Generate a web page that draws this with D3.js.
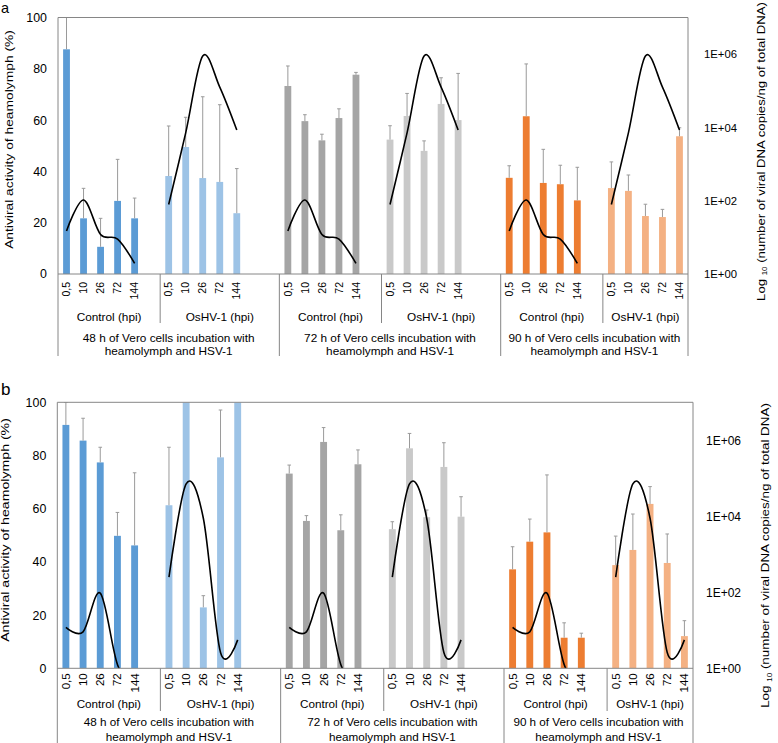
<!DOCTYPE html>
<html><head><meta charset="utf-8">
<script src="https://cdn.jsdelivr.net/npm/d3@7"></script>
<style>
body{margin:0;background:#fff}
svg{display:block}
text{font-family:"Liberation Sans",Arial,Helvetica,sans-serif;fill:#000}
</style>
</head><body>
<svg id="c" width="778" height="743"></svg>
<script>
// ---------------- data ----------------
const timepoints = ["0,5", "10", "26", "72", "144"];
const treatments = ["Control (hpi)", "OsHV-1 (hpi)"];
const incubationLine1 = ["48 h of Vero cells incubation with", "72 h of Vero cells incubation with", "90 h of Vero cells incubation with"];
const incubationLine2 = ["heamolymph and HSV-1", "heamolymph and HSV-1", "heamolymph and HSV-1"];
const leftTicks = [0, 20, 40, 60, 80, 100];
const rightTicks = [1, 1e2, 1e4, 1e6];
const rightTickLabels = ["1E+00", "1E+02", "1E+04", "1E+06"];
const leftTitle = "Antiviral activity of heamolymph (%)";
const rightTitleParts = ["Log ", "10", " (number of viral DNA copies/ng of total DNA)"];

// panel a : antiviral activity (%) [incubation][treatment][timepoint]
const activityA = [
  [[87.6, 21.7, 10.6, 28.5, 21.7], [38.2, 49.5, 37.4, 35.9, 23.7]],
  [[73.3, 59.6, 52.1, 60.8, 77.7], [52.4, 61.6, 48.0, 66.3, 60.0]],
  [[37.5, 61.5, 35.5, 35.0, 28.7], [33.5, 32.4, 22.6, 22.2, 53.7]]
];
const errorA = [
  [[12.4, 11.7, 11.1, 16.2, 7.9], [19.5, 11.6, 31.7, 30.1, 17.4]],
  [[7.8, 2.5, 2.4, 3.6, 0.9], [5.4, 8.8, 3.9, 10.2, 18.2]],
  [[4.7, 20.4, 13.1, 7.4, 12.9], [10.2, 6.2, 4.6, 3.0, 3.3]]
];
// viral DNA copies / ng total DNA (same curve repeated in each incubation group)
const dnaControlA = [15, 105, 12, 9, 1.95];
const dnaOsHVA = [79, 7100, 890000, 126000, 8500];

// panel b
const activityB = [
  [[91.5, 85.6, 77.4, 49.8, 46.2], [61.3, 100, 22.9, 79.3, 100]],
  [[73.2, 55.4, 85.1, 51.9, 76.7], [52.3, 82.7, 56.8, 75.7, 57.0]],
  [[37.2, 47.6, 51.1, 11.5, 11.5], [38.8, 44.5, 61.8, 39.6, 12.1]]
];
const errorB = [
  [[8.5, 8.4, 5.7, 8.8, 27.3], [21.8, 0, 4.4, 17.8, 0]],
  [[3.2, 2.0, 5.4, 5.8, 5.4], [2.8, 5.6, 2.7, 9.1, 7.5]],
  [[8.5, 8.5, 21.6, 5.6, 1.7], [10.9, 13.5, 6.5, 10.9, 5.8]]
];
const dnaControlB = [12, 9.1, 95, 1.26, 0.3];
const dnaOsHVB = [250, 71000, 8900, 2.6, 5.6];

// ---------------- styles ----------------
const barColors = [["#5b9bd5", "#9dc3e6"], ["#a5a5a5", "#c9c9c9"], ["#ed7d31", "#f4b183"]];
const frameColor = "#868686";
const errColor = "#9a9a9a";

// category slots (Excel-style with blank categories between groups)
const slots = [];
incubationLine1.forEach((_, gi) => {
  treatments.forEach((_, ti) => {
    timepoints.forEach((tp, k) => slots.push(`${gi}-${ti}-${k}`));
    const blanks = ti === 0 ? 1 : (gi < incubationLine1.length - 1 ? 2 : 0);
    for (let b = 0; b < blanks; b++) slots.push(`${gi}-${ti}-b${b}`);
  });
});

const svg = d3.select("#c");
const defs = svg.append("defs");

function panel(cfg, activity, errors, dnaCtrl, dnaOsHV) {
  const g = svg.append("g");
  const x = d3.scaleBand().domain(slots).range([cfg.x0, cfg.x1]).padding(0);
  const y = d3.scaleLinear().domain([0, 100]).range([cfg.yBot, cfg.yTop]);
  const yR = d3.scaleLog().domain([1, 1e7]).range([cfg.yBot, cfg.yTop]);
  const bw = x.bandwidth();
  const barW = bw * 0.4;
  const clipId = "clip" + cfg.id;
  defs.append("clipPath").attr("id", clipId).append("rect")
    .attr("x", cfg.x0).attr("y", cfg.yTop)
    .attr("width", cfg.x1 - cfg.x0).attr("height", cfg.yBot - cfg.yTop);

  const plot = g.append("g").attr("clip-path", `url(#${clipId})`);
  const barData = [];
  activity.forEach((inc, gi) => inc.forEach((vals, ti) => vals.forEach((v, k) =>
    barData.push({ gi, ti, k, v, e: errors[gi][ti][k] }))));
  const cx = d => x(`${d.gi}-${d.ti}-${d.k}`) + bw / 2;

  plot.selectAll("rect.bar").data(barData).join("rect").attr("class", "bar")
    .attr("x", d => cx(d) - barW / 2).attr("width", barW)
    .attr("y", d => y(d.v)).attr("height", d => y(0) - y(d.v))
    .attr("fill", d => barColors[d.gi][d.ti]);

  const errData = barData.filter(d => d.e > 0);
  plot.selectAll("line.err").data(errData).join("line").attr("class", "err")
    .attr("x1", cx).attr("x2", cx)
    .attr("y1", d => y(d.v)).attr("y2", d => y(d.v + d.e))
    .attr("stroke", errColor).attr("stroke-width", 1);
  plot.selectAll("line.cap").data(errData).join("line").attr("class", "cap")
    .attr("x1", d => cx(d) - 1.8).attr("x2", d => cx(d) + 1.8)
    .attr("y1", d => y(d.v + d.e)).attr("y2", d => y(d.v + d.e))
    .attr("stroke", errColor).attr("stroke-width", 1);

  const line = d3.line().x(d => d.x).y(d => yR(d.v)).curve(d3.curveCardinal.tension(0));
  incubationLine1.forEach((_, gi) => {
    [dnaCtrl, dnaOsHV].forEach((arr, ti) => {
      const pts = arr.map((v, k) => ({ x: x(`${gi}-${ti}-${k}`) + bw / 2, v }));
      plot.append("path").attr("d", line(pts)).attr("fill", "none")
        .attr("stroke", "#000").attr("stroke-width", 1.6);
    });
  });

  // frame
  g.append("line").attr("x1", cfg.x0).attr("x2", cfg.x1).attr("y1", cfg.yTop).attr("y2", cfg.yTop)
    .attr("stroke", frameColor);
  g.append("line").attr("x1", cfg.x0).attr("x2", cfg.x1).attr("y1", cfg.yBot).attr("y2", cfg.yBot)
    .attr("stroke", frameColor);
  [cfg.x0, cfg.x1].forEach(xx => g.append("line").attr("x1", xx).attr("x2", xx)
    .attr("y1", cfg.yTop).attr("y2", cfg.sepEnd).attr("stroke", frameColor));

  // left axis
  const la = g.append("g").attr("transform", `translate(${cfg.x0},0)`)
    .call(d3.axisLeft(y).tickValues(leftTicks).tickSize(0).tickPadding(cfg.leftPad));
  la.select(".domain").remove();
  la.selectAll("text").attr("font-size", cfg.leftFont).attr("font-family", null);

  // right axis
  const ra = g.append("g").attr("transform", `translate(${cfg.x1},0)`)
    .call(d3.axisRight(yR).tickValues(rightTicks).tickFormat((d, i) => rightTickLabels[i])
      .tickSize(0).tickPadding(cfg.rightPad));
  ra.select(".domain").remove();
  ra.selectAll("text").attr("font-size", cfg.rightFont).attr("font-family", null);

  // bottom axis (timepoints)
  const ba = g.append("g").attr("transform", `translate(0,${cfg.yBot})`)
    .call(d3.axisBottom(x).tickValues(slots.filter(s => !s.includes("b")))
      .tickFormat(s => timepoints[+s.split("-")[2]]).tickSize(0));
  ba.select(".domain").remove();
  ba.selectAll("text").attr("font-size", cfg.tickFont).attr("font-family", null)
    .attr("text-anchor", "end").attr("transform", "rotate(-90)")
    .attr("x", -cfg.tickGap).attr("y", 0).attr("dy", "0.35em");

  // group labels & separators
  incubationLine1.forEach((_, gi) => {
    const cStart = x(`${gi}-0-0`), oStart = x(`${gi}-1-0`);
    const gEnd = gi < incubationLine1.length - 1 ? x(`${gi + 1}-0-0`) : cfg.x1;
    g.append("line").attr("x1", oStart).attr("x2", oStart).attr("y1", cfg.yBot).attr("y2", cfg.sep2End)
      .attr("stroke", frameColor);
    if (gi > 0) g.append("line").attr("x1", cStart).attr("x2", cStart).attr("y1", cfg.yBot).attr("y2", cfg.sepEnd)
      .attr("stroke", frameColor);
    g.append("text").attr("x", (cStart + oStart) / 2).attr("y", cfg.lvl2Y).attr("text-anchor", "middle")
      .attr("font-size", cfg.catFont).text(treatments[0]);
    g.append("text").attr("x", (oStart + gEnd) / 2).attr("y", cfg.lvl2Y).attr("text-anchor", "middle")
      .attr("font-size", cfg.catFont).text(treatments[1]);
    g.append("text").attr("x", (cStart + gEnd) / 2).attr("y", cfg.lvl3Y1).attr("text-anchor", "middle")
      .attr("font-size", cfg.catFont).text(incubationLine1[gi]);
    g.append("text").attr("x", (cStart + gEnd) / 2).attr("y", cfg.lvl3Y2).attr("text-anchor", "middle")
      .attr("font-size", cfg.catFont).text(incubationLine2[gi]);
  });

  // left title
  const lt = g.append("text").attr("text-anchor", "middle").attr("font-size", cfg.titleFont).text(leftTitle);
  const ltLen = lt.node().getComputedTextLength();
  lt.attr("transform", `translate(${cfg.leftTitleX},${cfg.leftTitleY}) rotate(-90) scale(${cfg.leftTitleLen / ltLen},1)`);

  // right title
  const rt = g.append("text").attr("text-anchor", "middle").attr("font-size", cfg.titleFont);
  rt.append("tspan").text(rightTitleParts[0]);
  rt.append("tspan").attr("font-size", cfg.titleFont * 0.6).attr("dy", 2.5).text(rightTitleParts[1]);
  rt.append("tspan").attr("dy", -2.5).text(rightTitleParts[2]);
  const rtLen = rt.node().getComputedTextLength();
  rt.attr("transform", `translate(${cfg.rightTitleX},${cfg.rightTitleY}) rotate(-90) scale(${cfg.rightTitleLen / rtLen},1)`);

  // panel letter
  g.append("text").attr("x", cfg.labelX).attr("y", cfg.labelY).attr("font-size", cfg.labelFont).text(cfg.id);
}

panel({
  id: "a", x0: 58, x1: 688, yTop: 17.5, yBot: 274,
  leftPad: 11, leftFont: 12.4, rightPad: 16, rightFont: 11.3,
  tickGap: 8, tickFont: 10.5, catFont: 11.8,
  lvl2Y: 321, lvl3Y1: 341.5, lvl3Y2: 354.5, sep2End: 323, sepEnd: 356,
  titleFont: 11.5, leftTitleX: 13.3, leftTitleY: 139.5, leftTitleLen: 219,
  rightTitleX: 764.5, rightTitleY: 151.5, rightTitleLen: 299,
  labelX: 1, labelY: 13, labelFont: 14.5
}, activityA, errorA, dnaControlA, dnaOsHVA);

panel({
  id: "b", x0: 57.3, x1: 693, yTop: 402.3, yBot: 668.3,
  leftPad: 11, leftFont: 12.4, rightPad: 13, rightFont: 12,
  tickGap: 5, tickFont: 11.5, catFont: 11.7,
  lvl2Y: 708, lvl3Y1: 726, lvl3Y2: 741, sep2End: 711, sepEnd: 743,
  titleFont: 11.5, leftTitleX: 9.3, leftTitleY: 530, leftTitleLen: 224,
  rightTitleX: 769, rightTitleY: 555.5, rightTitleLen: 305,
  labelX: 1, labelY: 395, labelFont: 17
}, activityB, errorB, dnaControlB, dnaOsHVB);
</script>
</body></html>
